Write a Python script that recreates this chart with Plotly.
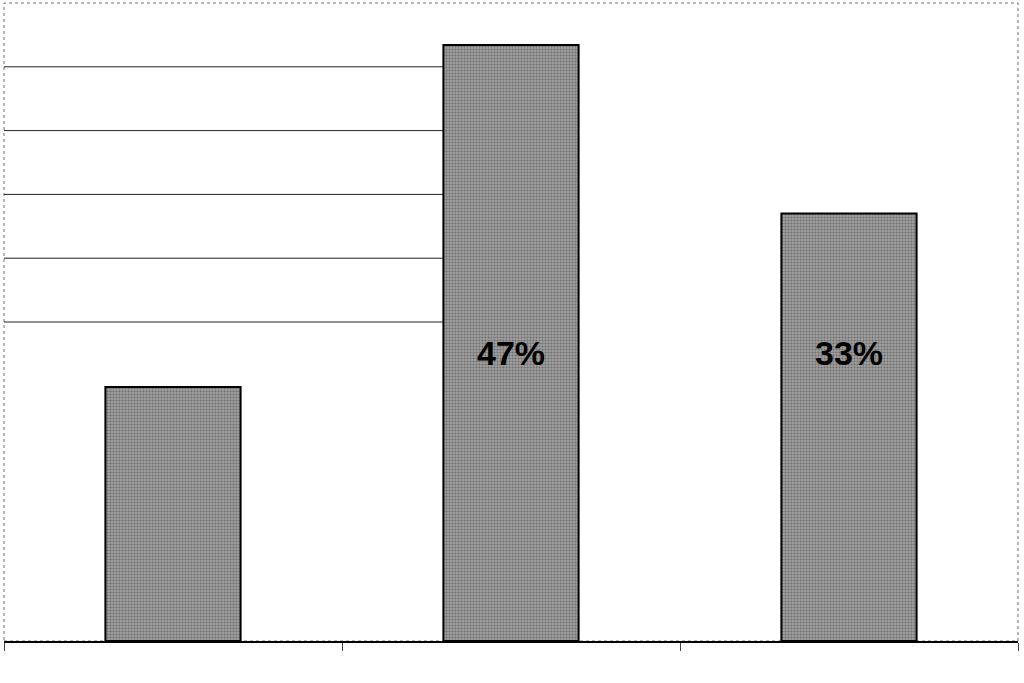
import plotly.graph_objects as go

# three groups, values (percent)
categories = ["Group A", "Group B", "Group C"]
values = [19.9, 46.7, 33.5]
bar_labels = ["", "47%", "33%"]
label_level = 22.6  # labels sit at the same height inside the bars

# only these gridlines survive in the picture (upper left, up to the tall bar)
grid_levels = [25, 30, 35, 40, 45]
bar_width = 0.4

fig = go.Figure()

fig.add_trace(go.Bar(
    x=categories,
    y=values,
    width=bar_width,
    marker=dict(
        color="#8c8c8c",
        line=dict(color="black", width=2),
        pattern=dict(shape=".", fgcolor="#3a3a3a", bgcolor="#a0a0a0", size=3, solidity=0.4),
    ),
    showlegend=False,
))

# percent labels inside the bars
for cat, lab in zip(categories, bar_labels):
    if lab:
        fig.add_annotation(
            x=cat, y=label_level, text="<b>" + lab + "</b>", showarrow=False,
            font=dict(family="Liberation Sans, Arial", size=34, color="black"),
        )

# partial gridlines, from the left edge to the left side of the second bar
grid_end = categories.index("Group B") - bar_width / 2
for lvl in grid_levels:
    fig.add_shape(
        type="line", xref="x", yref="y", x0=-0.5, x1=grid_end, y0=lvl, y1=lvl,
        line=dict(color="#222", width=1), layer="below",
    )

# thin dotted frame round the plot area
fig.add_shape(
    type="rect", xref="paper", yref="paper", x0=0, y0=0, x1=1, y1=1,
    line=dict(color="#6e6e6e", width=1, dash="dot"), layer="below",
)

fig.update_xaxes(
    type="category",
    range=[-0.5, 2.5],
    showticklabels=False,
    ticks="outside", tickson="boundaries", ticklen=8, tickcolor="#444", tickwidth=1,
    showline=True, linecolor="black", linewidth=2,
    showgrid=False, zeroline=False,
)
fig.update_yaxes(
    range=[0, 50], dtick=5,
    showticklabels=False, ticks="",
    showgrid=False,
    zeroline=False, showline=False,
)

fig.update_layout(
    width=1024, height=683,
    margin=dict(l=4, r=6, t=3, b=42),
    plot_bgcolor="white", paper_bgcolor="white",
)

# drop the page's default body margin so the figure sits at the window corner
fig.write_html("out.html", config={"displayModeBar": False},
               post_script="document.body.style.margin='0';")
